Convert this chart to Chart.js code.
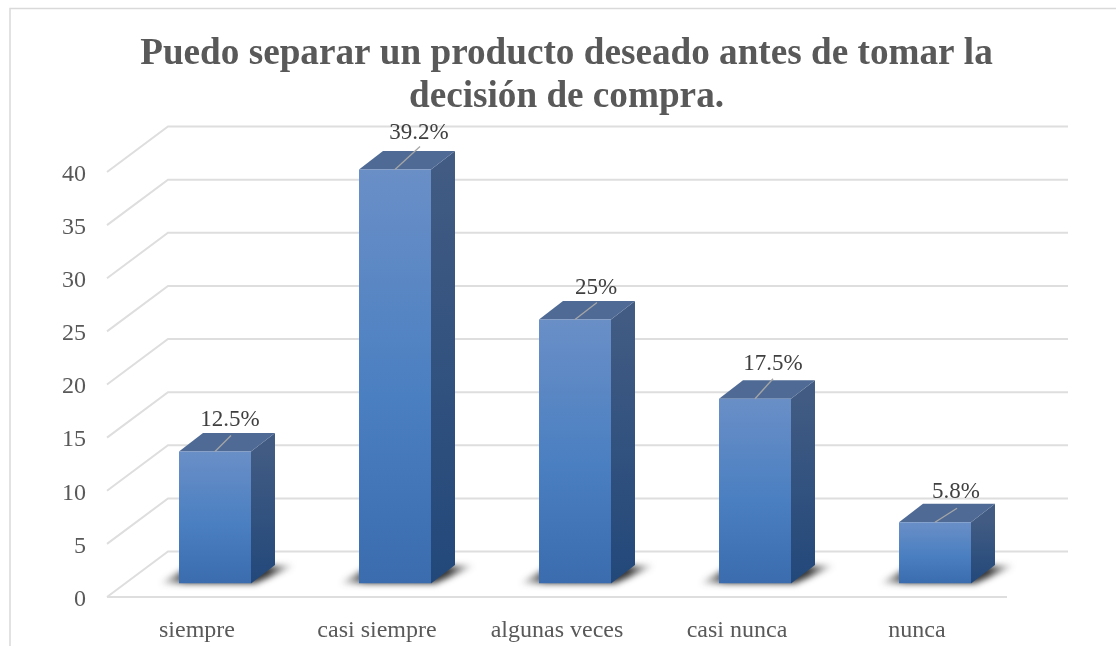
<!DOCTYPE html>
<html>
<head>
<meta charset="utf-8">
<title>Puedo separar un producto</title>
<script src="https://cdn.jsdelivr.net/npm/chart.js@4"></script>
<style>
  html, body { margin: 0; background: #fff; overflow: hidden; }
  #chart { display: block; filter: blur(0.45px); }
</style>
</head>
<body>
<canvas id="chart" width="1116" height="646"></canvas>
<script>
const categories = ['siempre', 'casi siempre', 'algunas veces', 'casi nunca', 'nunca'];
const porcentajes = [12.5, 39.2, 25, 17.5, 5.8];
const etiquetas = ['12.5%', '39.2%', '25%', '17.5%', '5.8%'];
const titleLines = ['Puedo separar un producto deseado antes de tomar la', 'decisión de compra.'];

// Geometria del efecto 3D (px)
const wall = { x: 61, y: -45.5 };     // profundidad de la pared del fondo
const floorShift = { x: 18, y: -13.5 }; // las barras estan sobre el piso, no en el borde
const depth = { x: 24, y: -18.5 };  // profundidad de cada barra
// Etiquetas movidas a mano en el original, por eso cada una tiene su linea guia
const leaderEnd = [[16, -16], [25, -23], [22, -17], [18, -20], [22, -14]];
const labelPos = [[15, -32], [24, -37], [21, -32], [18, -35], [21, -30]];

function poly(ctx, pts, fill) {
  ctx.beginPath();
  pts.forEach((p, i) => i ? ctx.lineTo(p[0], p[1]) : ctx.moveTo(p[0], p[1]));
  ctx.closePath();
  ctx.fillStyle = fill;
  ctx.fill();
}

function vGrad(ctx, top, bottom, stops) {
  const g = ctx.createLinearGradient(0, top, 0, bottom);
  stops.forEach(s => g.addColorStop(s[0], s[1]));
  return g;
}

const bars3d = {
  id: 'bars3d',
  afterLayout(chart) {
    // el titulo no esta centrado sobre el canvas en el original
    chart.titleBlock.left = 0;
    chart.titleBlock.right = 1133;
  },
  beforeDatasetsDraw(chart) {
    const ctx = chart.ctx;
    const y = chart.scales.y;
    const { left, right, bottom } = chart.chartArea;

    // Marco exterior (solo izquierda y arriba quedan dentro de la foto)
    ctx.save();
    ctx.strokeStyle = '#d9d9d9';
    ctx.lineWidth = 1.5;
    ctx.beginPath();
    ctx.moveTo(10, 646);
    ctx.lineTo(10, 8.5);
    ctx.lineTo(1116, 8.5);
    ctx.stroke();

    // Lineas de la cuadricula: oblicua por la pared lateral y horizontal al fondo
    ctx.strokeStyle = '#dedede';
    ctx.lineWidth = 2;
    y.ticks.forEach(t => {
      const py = y.getPixelForValue(t.value);
      ctx.beginPath();
      ctx.moveTo(left, py);
      ctx.lineTo(left + wall.x, py + wall.y);
      ctx.lineTo(right + wall.x, py + wall.y);
      ctx.stroke();
    });
    ctx.beginPath();
    ctx.moveTo(left, bottom);
    ctx.lineTo(right, bottom);
    ctx.stroke();

    // Numeros del eje Y: bajados unos px respecto a la linea, como en el original
    ctx.font = '24px "Liberation Serif"';
    ctx.fillStyle = '#595959';
    ctx.textAlign = 'right';
    ctx.textBaseline = 'middle';
    y.ticks.forEach(t => {
      ctx.fillText(String(t.value), left - 21, y.getPixelForValue(t.value) + 2.5);
    });

    // Sombra y caras lateral y superior de cada barra
    chart.getDatasetMeta(0).data.forEach(bar => {
      const l = bar.x - bar.width / 2 + floorShift.x;
      const r = bar.x + bar.width / 2 + floorShift.x;
      const t = bar.y + floorShift.y;
      const b = bar.base + floorShift.y;

      const g = ctx.createLinearGradient(l - 20, 0, r + 44, 0);
      g.addColorStop(0, 'rgba(30,30,30,0)');
      g.addColorStop(0.2, 'rgba(30,30,30,0.85)');
      g.addColorStop(0.8, 'rgba(30,30,30,0.9)');
      g.addColorStop(1, 'rgba(30,30,30,0)');
      ctx.save();
      ctx.filter = 'blur(3px)';
      poly(ctx, [[l - 20, b], [r + 4, b], [r + 44, b - 18], [l + 12, b - 18]], g);
      ctx.restore();

      poly(ctx, [[r, t], [r + depth.x, t + depth.y], [r + depth.x, b + depth.y], [r, b]],
        vGrad(ctx, t, b, [[0, '#415b83'], [1, '#22487a']]));
      poly(ctx, [[l, t], [l + depth.x, t + depth.y], [r + depth.x, t + depth.y], [r, t]], '#4f6b95');
    });

    // Las barras del dataset se dibujan corridas sobre el piso
    ctx.restore();
    ctx.save();
    ctx.translate(floorShift.x, floorShift.y);
  },
  afterDatasetsDraw(chart) {
    const ctx = chart.ctx;
    ctx.restore();
    ctx.save();
    ctx.font = '23px "Liberation Serif"';
    ctx.textAlign = 'center';
    ctx.textBaseline = 'middle';
    chart.getDatasetMeta(0).data.forEach((bar, i) => {
      const x0 = bar.x + floorShift.x;
      const y0 = bar.y + floorShift.y;
      ctx.strokeStyle = '#a6a6a6';
      ctx.lineWidth = 1.3;
      ctx.beginPath();
      ctx.moveTo(x0, y0);
      ctx.lineTo(x0 + leaderEnd[i][0], y0 + leaderEnd[i][1]);
      ctx.stroke();
      ctx.fillStyle = '#404040';
      ctx.fillText(etiquetas[i], x0 + labelPos[i][0], y0 + labelPos[i][1]);
    });
    ctx.restore();
  }
};

const ctx = document.getElementById('chart').getContext('2d');

const chart = new Chart(ctx, {
  type: 'bar',
  data: {
    labels: categories,
    datasets: [{
      data: porcentajes,
      yAxisID: 'yBars',
      categoryPercentage: 1,
      barPercentage: 0.4,
      backgroundColor: (c) => {
        if (!c.chart.chartArea || c.raw === undefined) return '#4a7fc1';
        const s = c.chart.scales.yBars;
        return vGrad(c.chart.ctx, s.getPixelForValue(c.raw), s.getPixelForValue(0),
          [[0, '#6a8fc7'], [0.55, '#4a7fc1'], [1, '#3a6cae']]);
      }
    }]
  },
  options: {
    responsive: false,
    animation: false,
    layout: { padding: { right: 109 } },
    scales: {
      x: {
        grid: { display: false, drawTicks: false },
        border: { display: false },
        ticks: { color: '#595959', padding: 19, font: { family: 'Liberation Serif', size: 24 }, maxRotation: 0 },
        afterFit: (s) => { s.height = 49; }
      },
      y: {
        min: 0,
        max: 40,
        grid: { display: false, drawTicks: false },
        border: { display: false },
        ticks: { display: false, stepSize: 5 },
        afterFit: (s) => { s.width = 107; }
      },
      // las barras quedan un poco mas cortas que la pared por la perspectiva
      yBars: { display: false, min: 0, max: 40.25 }
    },
    plugins: {
      legend: { display: false },
      tooltip: { enabled: false },
      title: {
        display: true,
        text: titleLines,
        color: '#595959',
        padding: { top: 32.5, bottom: 53.5 },
        font: { family: 'Liberation Serif', size: 37.2, weight: 'bold', lineHeight: 43 / 37.2 }
      }
    }
  },
  plugins: [bars3d]
});
</script>
</body>
</html>
